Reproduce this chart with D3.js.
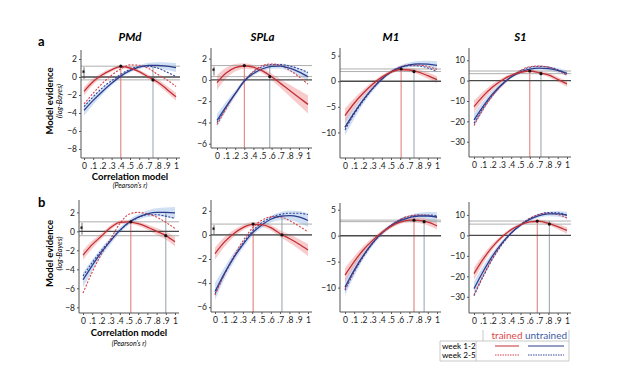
<!DOCTYPE html>
<html lang="en">
<head>
<meta charset="UTF-8">
<title>Model evidence by correlation model</title>
<script src="https://d3js.org/d3.v7.min.js"></script>
<style>
  body { margin: 0; background: #fff; }
  svg { font-family: Lato, "Open Sans", sans-serif; }
</style>
</head>
<body>
<div id="chart"></div>
<script>
// regions (columns) and rows
const regions = ["PMd", "SPLa", "M1", "S1"];
const rowLabels = ["a", "b"];
const rValues = [0, .1, .2, .3, .4, .5, .6, .7, .8, .9, 1];
const xTickLabels = ["0", ".1", ".2", ".3", ".4", ".5", ".6", ".7", ".8", ".9", "1"];

// panel order: PMd a, SPLa a, M1 a, S1 a, PMd b, SPLa b, M1 b, S1 b
const yDomains = [[-9, 3], [-6.4, 3], [-15, 6.5], [-37.5, 16], [-8.6, 3.3], [-6.4, 2.9], [-14.7, 6.3], [-37.9, 16.3]];
const yTicks = [[-8, -6, -4, -2, 0, 2], [-6, -4, -2, 0, 2], [-10, -5, 0, 5], [-30, -20, -10, 0, 10],
                [-8, -6, -4, -2, 0, 2], [-6, -4, -2, 0, 2], [-10, -5, 0, 5], [-30, -20, -10, 0, 10]];

// trained, week 1-2 (solid red)
const trainedWk12 = [
  [-1.6, -0.5, 0.25, 0.8, 1.15, 1.0, 0.6, 0.0, -0.55, -1.35, -2.2],
  [-0.25, 0.65, 1.15, 1.31, 1.2, 0.85, 0.3, -0.35, -1.0, -1.65, -2.3],
  [-6.7, -4.3, -2.3, -0.6, 0.8, 1.8, 2.3, 2.2, 1.8, 1.1, 0.3],
  [-12.8, -7.5, -3.2, 0.2, 2.6, 4.0, 4.7, 3.9, 2.8, 0.6, -1.6],
  [-2.5, -1.4, -0.5, 0.4, 0.95, 1.0, 0.8, 0.45, 0.0, -0.45, -1.1],
  [-1.55, -0.6, 0.1, 0.6, 0.88, 0.85, 0.6, 0.1, -0.3, -0.75, -1.25],
  [-7.6, -5.0, -2.7, -0.9, 0.6, 1.8, 2.6, 3.0, 2.95, 2.6, 1.9],
  [-18.7, -11.5, -5.5, -0.8, 2.8, 5.2, 6.6, 6.9, 5.9, 4.3, 2.4]
];
// trained, week 2-5 (dashed red)
const trainedWk25 = [
  [-3.0, -1.8, -0.7, 0.2, 0.9, 1.35, 1.3, 0.95, 0.3, -0.3, -1.05],
  [-4.2, -2.7, -1.3, -0.1, 0.8, 1.35, 1.5, 1.35, 0.9, 0.3, -0.4],
  [-9.0, -6.1, -3.6, -1.4, 0.5, 1.9, 2.8, 3.2, 3.2, 2.9, 2.3],
  [-22, -14, -7.5, -2.3, 1.9, 5.0, 6.8, 7.2, 6.6, 5.0, 2.6],
  [-6.5, -4.3, -2.4, -0.8, 0.8, 1.8, 2.0, 1.85, 1.5, 0.95, 0.3],
  [-5.0, -3.3, -1.8, -0.5, 0.55, 1.2, 1.5, 1.5, 1.2, 0.75, 0.25],
  [-10.2, -6.8, -3.9, -1.4, 0.5, 2.0, 3.1, 3.8, 4.0, 3.9, 3.5],
  [-29, -19.5, -11.2, -4.3, 1.1, 5.3, 8.3, 10.2, 10.8, 10.2, 8.5]
];
// untrained, week 1-2 (solid blue)
const untrainedWk12 = [
  [-3.7, -2.6, -1.6, -0.7, 0.1, 0.7, 1.1, 1.3, 1.3, 1.2, 1.05],
  [-3.8, -2.5, -1.3, -0.1, 0.6, 1.05, 1.28, 1.3, 1.1, 0.75, 0.3],
  [-9.0, -6.2, -3.6, -1.4, 0.4, 1.8, 2.7, 3.2, 3.4, 3.35, 3.1],
  [-19.3, -12.5, -6.5, -1.8, 1.8, 4.2, 5.6, 6.1, 5.9, 5.0, 3.6],
  [-5.1, -3.6, -2.2, -1.0, 0.1, 0.95, 1.5, 1.85, 2.0, 2.0, 1.95],
  [-4.7, -3.2, -1.9, -0.8, 0.15, 0.8, 1.3, 1.55, 1.6, 1.5, 1.2],
  [-9.9, -6.6, -3.8, -1.4, 0.5, 1.9, 2.9, 3.5, 3.8, 3.8, 3.6],
  [-26, -17.5, -10.0, -3.8, 1.2, 5.0, 7.8, 9.6, 10.5, 10.5, 9.8]
];
// untrained, week 2-5 (dashed blue)
const untrainedWk25 = [
  [-3.3, -2.2, -1.2, -0.4, 0.3, 0.85, 1.15, 1.2, 1.0, 0.55, 0.05],
  [-4.0, -2.6, -1.3, -0.1, 0.75, 1.25, 1.45, 1.45, 1.3, 1.05, 0.7],
  [-9.5, -6.4, -3.8, -1.5, 0.4, 1.8, 2.7, 3.05, 3.0, 2.6, 1.9],
  [-21, -13.5, -7.2, -2.2, 1.8, 4.8, 6.5, 7.0, 6.6, 5.3, 3.2],
  [-4.7, -3.3, -2.0, -0.9, 0.1, 0.9, 1.45, 1.75, 1.75, 1.6, 1.35],
  [-4.9, -3.3, -1.9, -0.7, 0.3, 1.0, 1.45, 1.7, 1.8, 1.8, 1.7],
  [-10.5, -7.0, -4.0, -1.5, 0.5, 2.0, 3.1, 3.7, 4.0, 4.0, 3.8],
  [-29.5, -20, -11.5, -4.5, 1.0, 5.2, 8.3, 10.3, 11.2, 11.0, 10.0]
];
// half-width of the shaded bands around the week 1-2 curves
const trainedCI = [
  [0.45, 0.35, 0.25, 0.2, 0.18, 0.18, 0.2, 0.25, 0.3, 0.38, 0.45],
  [0.7, 0.5, 0.35, 0.25, 0.2, 0.22, 0.3, 0.4, 0.55, 0.7, 0.85],
  [1.4, 1.0, 0.7, 0.5, 0.4, 0.35, 0.35, 0.4, 0.5, 0.6, 0.7],
  [3.0, 2.2, 1.5, 1.0, 0.8, 0.7, 0.7, 0.8, 1.0, 1.2, 1.5],
  [0.5, 0.4, 0.3, 0.25, 0.2, 0.2, 0.22, 0.28, 0.35, 0.42, 0.5],
  [0.5, 0.4, 0.3, 0.22, 0.2, 0.2, 0.22, 0.28, 0.35, 0.42, 0.5],
  [1.4, 1.0, 0.7, 0.5, 0.4, 0.35, 0.35, 0.4, 0.5, 0.6, 0.7],
  [3.0, 2.2, 1.5, 1.0, 0.8, 0.7, 0.7, 0.8, 1.0, 1.3, 1.6]
];
const untrainedCI = [
  [0.6, 0.45, 0.35, 0.25, 0.2, 0.2, 0.22, 0.28, 0.35, 0.42, 0.5],
  [0.6, 0.45, 0.3, 0.22, 0.2, 0.2, 0.22, 0.25, 0.3, 0.35, 0.4],
  [1.6, 1.2, 0.8, 0.6, 0.45, 0.4, 0.4, 0.45, 0.55, 0.65, 0.8],
  [3.2, 2.4, 1.6, 1.1, 0.8, 0.7, 0.7, 0.8, 1.0, 1.2, 1.4],
  [0.8, 0.6, 0.45, 0.35, 0.3, 0.28, 0.3, 0.35, 0.42, 0.5, 0.6],
  [0.7, 0.5, 0.4, 0.3, 0.25, 0.25, 0.28, 0.33, 0.4, 0.48, 0.55],
  [1.6, 1.2, 0.8, 0.6, 0.45, 0.4, 0.45, 0.5, 0.6, 0.75, 0.9],
  [3.5, 2.6, 1.8, 1.2, 0.9, 0.8, 0.8, 0.9, 1.1, 1.4, 1.7]
];
// peak markers
const trainedPeakR = [0.4, 0.3, 0.61, 0.6, 0.52, 0.41, 0.75, 0.68];
const trainedPeakV = [1.2, 1.35, 2.4, 4.7, 1.0, 0.9, 3.0, 7.0];
const untrainedPeakR = [0.75, 0.58, 0.75, 0.72, 0.9, 0.72, 0.86, 0.81];
const untrainedPeakV = [1.25, 1.4, 2.4, 4.7, 2.0, 1.5, 3.0, 7.2];
const trainedAtUntrainedPeak = [-0.32, 0.31, 1.9, 3.4, -0.46, 0.0, 2.7, 5.5];
const significant = [true, true, false, false, true, true, false, false];

// legend
const groups = ["trained", "untrained"];
const weeks = ["week 1-2", "week 2-5"];

// layout of each panel (pixels)
const panels = [
  {axisX: 81, x0: 84, x1: 176, top: 50, bottom: 158},
  {axisX: 211, x0: 217, x1: 308, top: 48, bottom: 148},
  {axisX: 340, x0: 345, x1: 437, top: 48, bottom: 158},
  {axisX: 469, x0: 474, x1: 567, top: 48, bottom: 157},
  {axisX: 79, x0: 83, x1: 175, top: 200, bottom: 313},
  {axisX: 211, x0: 215, x1: 308, top: 200, bottom: 312},
  {axisX: 340, x0: 345, x1: 437, top: 203, bottom: 312},
  {axisX: 469, x0: 474, x1: 567, top: 202, bottom: 313}
];

const red = "#c22f35", redBand = "#f29a9a", redDash = "#d8414a";
const blue = "#2d3d8e", blueBand = "#9fc0ea", blueDash = "#34449a";

const width = 617, height = 368;
const svg = d3.select("#chart").append("svg")
  .attr("width", width)
  .attr("height", height);

panels.forEach((p, i) => {
  const g = svg.append("g");
  const x = d3.scaleLinear().domain([0, 1]).range([p.x0, p.x1]);
  const y = d3.scaleLinear().domain(yDomains[i]).range([p.bottom, p.top]);
  const right = p.x1 + 4;

  const band = ci => d3.area()
    .x((d, j) => x(rValues[j]))
    .y0((d, j) => y(d - ci[j]))
    .y1((d, j) => y(d + ci[j]))
    .curve(d3.curveMonotoneX);
  const line = d3.line()
    .x((d, j) => x(rValues[j]))
    .y(d => y(d))
    .curve(d3.curveMonotoneX);

  // bands
  g.append("path").datum(untrainedWk12[i])
    .attr("d", band(untrainedCI[i])).attr("fill", blueBand).attr("opacity", 0.5);
  g.append("path").datum(trainedWk12[i])
    .attr("d", band(trainedCI[i])).attr("fill", redBand).attr("opacity", 0.5);

  // reference lines
  [trainedPeakV[i], trainedAtUntrainedPeak[i]].forEach(v => {
    g.append("line")
      .attr("x1", p.axisX).attr("x2", right)
      .attr("y1", y(v)).attr("y2", y(v))
      .attr("stroke", "#9a9a9a").attr("stroke-width", 0.8);
  });
  g.append("line")
    .attr("x1", x(trainedPeakR[i])).attr("x2", x(trainedPeakR[i]))
    .attr("y1", y(trainedPeakV[i])).attr("y2", p.bottom)
    .attr("stroke", "#e07474").attr("stroke-width", 1);
  g.append("line")
    .attr("x1", x(untrainedPeakR[i])).attr("x2", x(untrainedPeakR[i]))
    .attr("y1", y(untrainedPeakV[i])).attr("y2", p.bottom)
    .attr("stroke", "#95a0ab").attr("stroke-width", 1);

  // zero line
  g.append("line")
    .attr("x1", p.axisX).attr("x2", right)
    .attr("y1", y(0)).attr("y2", y(0))
    .attr("stroke", "#4a4a4a").attr("stroke-width", 1.4);

  // curves
  g.append("path").datum(untrainedWk25[i]).attr("d", line)
    .attr("fill", "none").attr("stroke", blueDash).attr("stroke-width", 1.1)
    .attr("stroke-dasharray", "2,1.5");
  g.append("path").datum(trainedWk25[i]).attr("d", line)
    .attr("fill", "none").attr("stroke", redDash).attr("stroke-width", 1.1)
    .attr("stroke-dasharray", "2,1.5");
  g.append("path").datum(untrainedWk12[i]).attr("d", line)
    .attr("fill", "none").attr("stroke", blue).attr("stroke-width", 1.3);
  g.append("path").datum(trainedWk12[i]).attr("d", line)
    .attr("fill", "none").attr("stroke", red).attr("stroke-width", 1.3);

  // dots
  [[trainedPeakR[i], trainedPeakV[i]], [untrainedPeakR[i], trainedAtUntrainedPeak[i]]].forEach(d => {
    g.append("circle")
      .attr("cx", x(d[0])).attr("cy", y(d[1])).attr("r", 1.6)
      .attr("fill", "#111");
  });

  // significance bracket
  if (significant[i]) {
    const bx = p.axisX + 3;
    const ya = y(trainedPeakV[i]), yb = y(trainedAtUntrainedPeak[i]);
    g.append("line")
      .attr("x1", bx).attr("x2", bx).attr("y1", ya + 1).attr("y2", yb - 1)
      .attr("stroke", "#333").attr("stroke-width", 0.7);
    g.append("text")
      .attr("x", bx - 0.5).attr("y", (ya + yb) / 2 + 4)
      .attr("text-anchor", "middle")
      .attr("font-size", "9px").attr("font-weight", "bold")
      .text("*");
  }

  // axes
  const yAxis = d3.axisLeft(y).tickValues(yTicks[i]).tickSize(2).tickSizeOuter(0).tickPadding(2);
  const ya = g.append("g").attr("transform", `translate(${p.axisX},0)`).call(yAxis);
  ya.select(".domain").attr("d", `M0,${p.top}V${p.bottom}`);
  const xAxis = d3.axisBottom(x).tickValues(rValues)
    .tickFormat((d, j) => xTickLabels[j]).tickSize(2).tickSizeOuter(0).tickPadding(3);
  const xa = g.append("g").attr("transform", `translate(0,${p.bottom})`).call(xAxis);
  xa.select(".domain").attr("d", `M${p.axisX},0H${right}`);
  [ya, xa].forEach(a => {
    a.selectAll("text").attr("font-size", "8.5px").attr("fill", "#222")
      .attr("font-family", "Lato, sans-serif");
    a.selectAll("line").attr("stroke", "#555");
    a.select(".domain").attr("stroke", "#555");
  });

  // titles on the first row
  if (i < 4) {
    svg.append("text")
      .attr("x", (p.x0 + p.x1) / 2).attr("y", 41)
      .attr("text-anchor", "middle")
      .attr("font-size", "11.5px").attr("font-weight", "bold").attr("font-style", "italic")
      .text(regions[i]);
  }
});

// row labels and axis titles on the first column
rowLabels.forEach((lab, r) => {
  const p = panels[r * 4];
  const mid = (p.top + p.bottom) / 2;
  svg.append("text")
    .attr("x", 38).attr("y", r === 0 ? 46 : 207)
    .attr("font-size", "13px").attr("font-weight", "bold")
    .text(lab);
  svg.append("text")
    .attr("transform", `translate(53,${mid - 3}) rotate(-90)`)
    .attr("text-anchor", "middle")
    .attr("font-size", "9.5px").attr("font-weight", "bold")
    .text("Model evidence");
  svg.append("text")
    .attr("transform", `translate(62,${mid - 3}) rotate(-90)`)
    .attr("text-anchor", "middle")
    .attr("font-size", "7.5px").attr("font-style", "italic")
    .text("(log-Bayes)");
  svg.append("text")
    .attr("x", (p.x0 + p.x1) / 2).attr("y", r === 0 ? 180 : 336)
    .attr("text-anchor", "middle")
    .attr("font-size", "9.5px").attr("font-weight", "bold")
    .text("Correlation model");
  svg.append("text")
    .attr("x", (p.x0 + p.x1) / 2).attr("y", r === 0 ? 188 : 346)
    .attr("text-anchor", "middle")
    .attr("font-size", "7px").attr("font-style", "italic")
    .text("(Pearson's r)");
});

// legend table
const leg = svg.append("g");
const colX = [507, 546];
const rowY = [346, 355];
const legColors = [[red, redDash], [blue, blueDash]];
groups.forEach((gname, c) => {
  leg.append("text")
    .attr("x", colX[c]).attr("y", 339)
    .attr("text-anchor", "middle")
    .attr("font-size", "10px")
    .attr("fill", c === 0 ? "#e0474c" : "#3d5aa3")
    .text(gname);
  weeks.forEach((w, r) => {
    leg.append("line")
      .attr("x1", colX[c] - (c === 0 ? 12 : 18)).attr("x2", colX[c] + (c === 0 ? 12 : 18))
      .attr("y1", rowY[r]).attr("y2", rowY[r])
      .attr("stroke", legColors[c][r]).attr("stroke-width", 1)
      .attr("stroke-dasharray", r === 1 ? "1.5,1" : null);
  });
});
weeks.forEach((w, r) => {
  leg.append("text")
    .attr("x", 442).attr("y", rowY[r] + 3)
    .attr("font-size", "8.2px")
    .text(w);
});
const borders = [
  [440, 341, 569, 341], [440, 341, 440, 361], [476, 341, 476, 361],
  [483, 330, 483, 341], [569, 330, 569, 361], [440, 361, 569, 361]
];
borders.forEach(b => {
  leg.append("line")
    .attr("x1", b[0]).attr("y1", b[1]).attr("x2", b[2]).attr("y2", b[3])
    .attr("stroke", "#bbb").attr("stroke-width", 0.8);
});
</script>
</body>
</html>
